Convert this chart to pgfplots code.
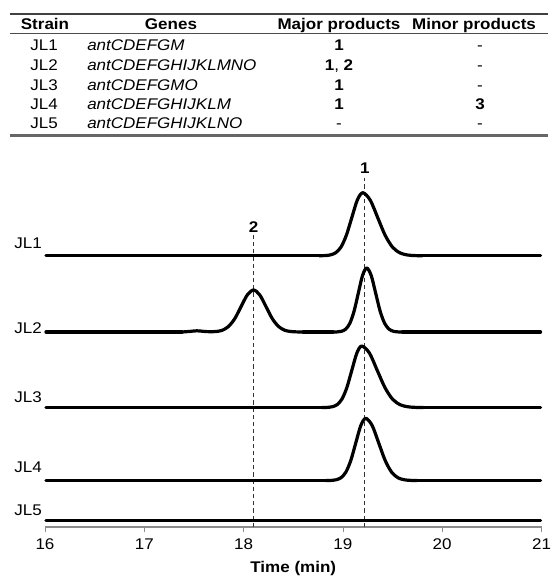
\documentclass[border=0pt]{standalone}
\usepackage{pgfplots}
\pgfplotsset{compat=1.18}
\usepackage{fontspec}
\setmainfont{Liberation Sans}[FakeStretch=1.1]
\newcommand{\chartfont}{\fontsize{11.6}{14}\selectfont}
\begin{document}
\chartfont
\begin{tikzpicture}
% picture frame: 550 x 578 reference pixels at 0.75pt each, axis origin at pixel (45,527)
\path[use as bounding box] (-33.75pt,-38.25pt) rectangle (378.75pt,395.25pt);
\begin{axis}[
    x=74.475pt, y=0.75pt,
    xmin=16, xmax=21, ymin=0, ymax=360,
    axis x line=bottom, axis y line=none,
    axis line style={-, black!45, line width=0.8pt},
    xtick={16,17,18,19,20,21},
    ytick=\empty,
    tick align=outside,
    major tick length=4pt,
    tick style={black!45, line width=0.6pt},
    /pgf/number format/assume math mode=true,
    xticklabel style={font=\chartfont, yshift=-1pt},
    xlabel={\bfseries Time (min)},
    xlabel style={font=\chartfont, yshift=-0.5pt},
    clip=false,
    trace/.style={black, line width=2.4pt, line cap=round, line join=round},
]
% retention time markers
\addplot[black!80, line width=0.95pt, dash pattern=on 3.2pt off 2.2pt] coordinates {(18.10,0) (18.10,292)};
\addplot[black!80, line width=0.95pt, dash pattern=on 3.2pt off 2.2pt] coordinates {(19.22,0) (19.22,349)};

% JL1
\addplot[trace] coordinates {(16.01,271.3) (18.76,271.3)};
\addplot[trace, smooth] coordinates {
    (18.76,271.3) (18.815,271.4) (18.87,272.0) (18.925,274.1) (18.98,279.8)
    (19.035,291.8) (19.09,309.5) (19.145,326.9) (19.20,334.3) (19.275,326.9) (19.35,309.5)
    (19.425,291.8) (19.50,279.8) (19.575,274.1) (19.65,272.0) (19.725,271.4) (19.80,271.3)
};
\addplot[trace] coordinates {(19.80,271.3) (20.99,271.3)};
% JL2
\addplot[trace] coordinates {(16.01,195) (17.38,195)};
\addplot[trace, smooth] coordinates {
    (17.38,195) (17.46,195.6) (17.53,196.2) (17.60,195.6) (17.66,195.3)
    (17.725,195.5) (17.7875,196.8) (17.85,200.7) (17.9125,208.6) (17.975,220.5) (18.0375,232.1)
    (18.10,237) (18.1625,232.1) (18.225,220.5) (18.2875,208.6) (18.35,200.7) (18.4125,196.8)
    (18.475,195.5) (18.5375,195.1) (18.60,195)
};
\addplot[trace] coordinates {(18.60,195) (18.90,195)};
\addplot[trace, smooth] coordinates {
    (18.90,195) (18.9425,195.1) (18.985,195.7)
    (19.0275,197.8) (19.07,203.7) (19.1125,215.8) (19.155,233.8) (19.1975,251.5) (19.24,259)
    (19.285,251.5) (19.33,233.8) (19.375,215.8) (19.42,203.7) (19.465,197.8) (19.51,195.7)
    (19.555,195.1) (19.60,195)
};
\addplot[trace] coordinates {(19.60,195) (20.99,195)};
% JL3
\addplot[trace] coordinates {(16.01,119.5) (18.79,119.5)};
\addplot[trace, smooth] coordinates {
    (18.79,119.5) (18.84,119.6) (18.89,120.2) (18.94,122.2) (18.99,127.8)
    (19.04,139.5) (19.09,156.8) (19.14,173.8) (19.19,181.0) (19.268,173.8) (19.345,156.8)
    (19.423,139.5) (19.50,127.8) (19.578,122.2) (19.655,120.2) (19.733,119.6) (19.81,119.5)
};
\addplot[trace] coordinates {(19.81,119.5) (20.99,119.5)};
% JL4
\addplot[trace] coordinates {(16.01,46.5) (18.83,46.5)};
\addplot[trace, smooth] coordinates {
    (18.83,46.5) (18.88,46.6) (18.93,47.2) (18.98,49.2) (19.03,54.9)
    (19.08,66.7) (19.13,84.2) (19.18,101.4) (19.23,108.7) (19.295,101.4) (19.36,84.2)
    (19.425,66.7) (19.49,54.9) (19.555,49.2) (19.62,47.2) (19.685,46.6) (19.75,46.5)
};
\addplot[trace] coordinates {(19.75,46.5) (20.99,46.5)};
% JL5
\addplot[trace] coordinates {(16.01,6.3) (20.99,6.3)};

\node[font=\chartfont\bfseries] at (axis cs:19.22,359) {1};
\node[font=\chartfont\bfseries] at (axis cs:18.10,299.5) {2};
\end{axis}

% table and strain labels, in reference pixel units
\begin{scope}[x=0.75pt, y=-0.75pt, shift={(-33.75pt,395.25pt)}]
\draw[black!75, line width=1.5pt] (10,14) -- (548,14);
\draw[black!70, line width=0.8pt] (10,33.5) -- (548,33.5);
\draw[black!60, line width=1.8pt] (10,135.5) -- (548,135.5);
\begin{scope}[every node/.style={inner sep=0pt, font=\chartfont}]
\node[anchor=base] at (45,29.5) {\bfseries Strain};
\node[anchor=base] at (171,29.5) {\bfseries Genes};
\node[anchor=base] at (339,29.5) {\bfseries Major products};
\node[anchor=base] at (474,29.5) {\bfseries Minor products};
% rows
\node[anchor=base] at (44,50.5) {JL1};
\node[anchor=base] at (44,70.5) {JL2};
\node[anchor=base] at (44,90.5) {JL3};
\node[anchor=base] at (44,110) {JL4};
\node[anchor=base] at (44,129) {JL5};
\node[anchor=base west] at (87,50.5) {\itshape antCDEFGM};
\node[anchor=base west] at (87,70.5) {\itshape antCDEFGHIJKLMNO};
\node[anchor=base west] at (87,90.5) {\itshape antCDEFGMO};
\node[anchor=base west] at (87,110) {\itshape antCDEFGHIJKLM};
\node[anchor=base west] at (87,129) {\itshape antCDEFGHIJKLNO};
\node[anchor=base] at (339,50.5) {\bfseries 1};
\node[anchor=base] at (339,70.5) {\textbf{1}, \textbf{2}};
\node[anchor=base] at (339,90.5) {\bfseries 1};
\node[anchor=base] at (339,110) {\bfseries 1};
\node[anchor=base] at (339,129) {-};
\node[anchor=base] at (480,50.5) {-};
\node[anchor=base] at (480,70.5) {-};
\node[anchor=base] at (480,90.5) {-};
\node[anchor=base] at (480,110) {\bfseries 3};
\node[anchor=base] at (480,129) {-};
% chromatogram labels
\node[anchor=base east] at (42,248.5) {JL1};
\node[anchor=base east] at (42,333.5) {JL2};
\node[anchor=base east] at (42,402.5) {JL3};
\node[anchor=base east] at (42,472.5) {JL4};
\node[anchor=base east] at (42,515.5) {JL5};
\end{scope}
\end{scope}
\end{tikzpicture}
\end{document}
